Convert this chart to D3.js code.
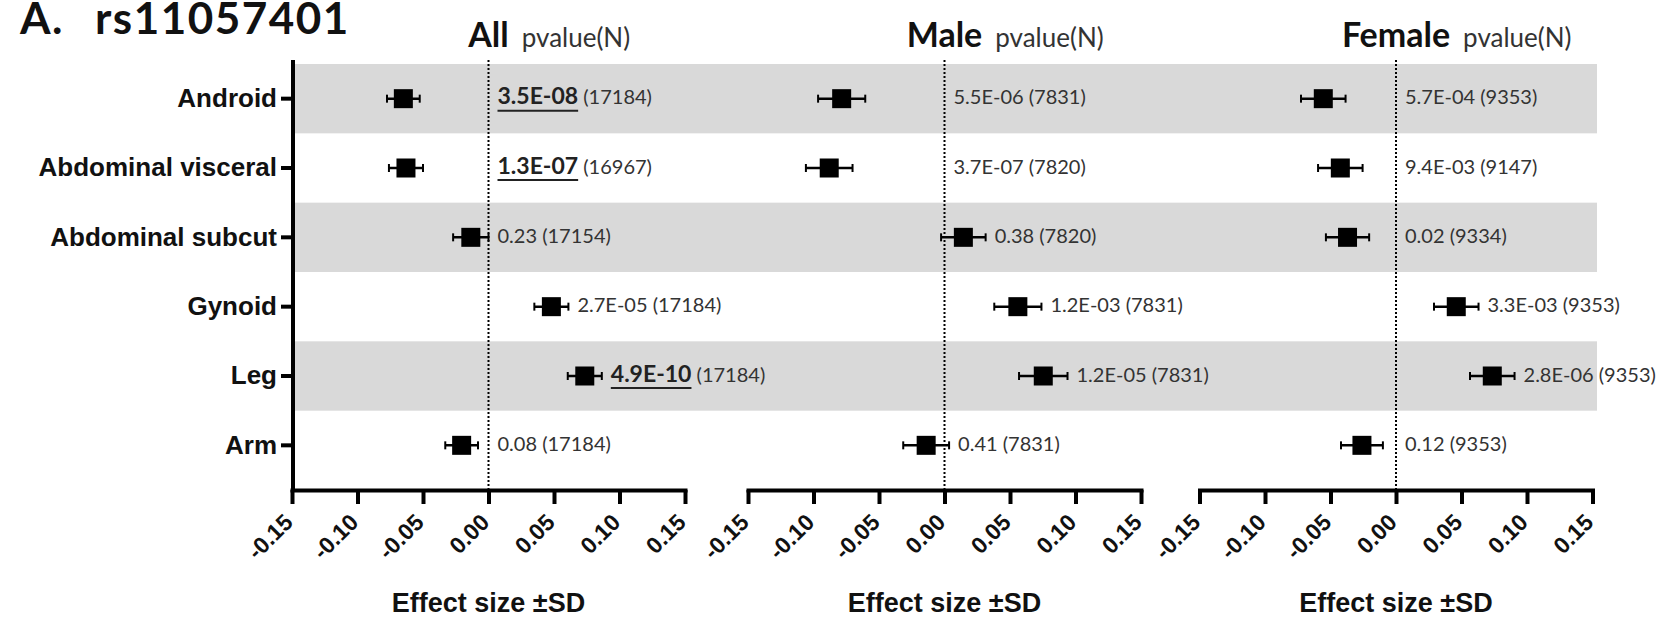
<!DOCTYPE html>
<html>
<head>
<meta charset="utf-8">
<script src="https://cdn.jsdelivr.net/npm/d3@7"></script>
<style>
  body { margin: 0; background: #fff; }
</style>
</head>
<body>
<svg id="chart"></svg>
<script>
// rows of the forest plot (top to bottom)
const rows = ['Android', 'Abdominal visceral', 'Abdominal subcut', 'Gynoid', 'Leg', 'Arm'];
const groups = ['All', 'Male', 'Female'];

// effect sizes and SD
const effectAll = [-0.065, -0.063, -0.0135, 0.048, 0.0735, -0.0205];
const sdAll = [0.0125, 0.013, 0.0135, 0.013, 0.013, 0.0125];
const pvalAll = ['3.5E-08', '1.3E-07', '0.23', '2.7E-05', '4.9E-10', '0.08'];
const nAll = [17184, 16967, 17154, 17184, 17184, 17184];
const sigAll = [true, true, false, false, true, false];

const effectMale = [-0.0785, -0.088, 0.0144, 0.056, 0.0754, -0.014];
const sdMale = [0.018, 0.0178, 0.017, 0.018, 0.0185, 0.0175];
const pvalMale = ['5.5E-06', '3.7E-07', '0.38', '1.2E-03', '1.2E-05', '0.41'];
const nMale = [7831, 7820, 7820, 7831, 7831, 7831];
const sigMale = [false, false, false, false, false, false];

const effectFemale = [-0.0555, -0.0425, -0.037, 0.046, 0.0735, -0.026];
const sdFemale = [0.017, 0.017, 0.0165, 0.017, 0.017, 0.016];
const pvalFemale = ['5.7E-04', '9.4E-03', '0.02', '3.3E-03', '2.8E-06', '0.12'];
const nFemale = [9353, 9147, 9334, 9353, 9353, 9353];
const sigFemale = [false, false, false, false, false, false];

const xTicks = [-0.15, -0.10, -0.05, 0, 0.05, 0.10, 0.15];
const xTickLabels = ['-0.15', '-0.10', '-0.05', '0.00', '0.05', '0.10', '0.15'];

function drawChart() {
  const W = 1664, H = 618;
  const svg = d3.select('#chart').attr('width', W).attr('height', H);

  const panelLeft = [292, 748, 1199.5];
  const panelWidth = 393;
  const axisY = 490;
  const topY = 60;
  const calibri = 'Lato, "Open Sans", sans-serif';
  const arial = '"Liberation Sans", Arial, sans-serif';

  const panels = [
    { name: groups[0], effect: effectAll, sd: sdAll, pval: pvalAll, n: nAll, sig: sigAll },
    { name: groups[1], effect: effectMale, sd: sdMale, pval: pvalMale, n: nMale, sig: sigMale },
    { name: groups[2], effect: effectFemale, sd: sdFemale, pval: pvalFemale, n: nFemale, sig: sigFemale }
  ];

  const y = d3.scaleBand().domain(rows).range([64, 480]).padding(0);

  // grey stripes behind every other row, across all three panels
  svg.append('g').selectAll('rect')
    .data(rows.filter((r, i) => i % 2 === 0)).enter()
    .append('rect')
    .attr('x', 293)
    .attr('width', 1597 - 293)
    .attr('y', d => y(d))
    .attr('height', y.bandwidth())
    .attr('fill', '#d9d9d9');

  // title
  const title = svg.append('text')
    .attr('y', 34)
    .attr('font-family', calibri)
    .attr('font-weight', 700)
    .attr('font-size', 44)
    .attr('letter-spacing', 1.5)
    .attr('fill', '#111');
  title.append('tspan').attr('x', 20).text('A.');
  title.append('tspan').attr('x', 95).text('rs11057401');

  // y axis (left panel only)
  const yAxis = d3.axisLeft(y).tickSizeInner(12).tickSizeOuter(0).tickPadding(4);
  const ya = svg.append('g').attr('transform', 'translate(293,0)').call(yAxis);
  ya.attr('font-family', null).attr('font-size', null);
  ya.select('.domain').remove();
  ya.selectAll('.tick line').attr('stroke', '#000').attr('stroke-width', 4);
  ya.selectAll('.tick text')
    .attr('font-family', arial)
    .attr('font-weight', 700)
    .attr('font-size', 26)
    .attr('fill', '#111');
  svg.append('line')
    .attr('x1', 293).attr('x2', 293)
    .attr('y1', topY).attr('y2', axisY + 2)
    .attr('stroke', '#000').attr('stroke-width', 4);

  panels.forEach((p, pi) => {
    const x = d3.scaleLinear()
      .domain([-0.15, 0.15])
      .range([panelLeft[pi], panelLeft[pi] + panelWidth]);
    const g = svg.append('g');

    // dotted zero line
    g.append('line')
      .attr('x1', x(0)).attr('x2', x(0))
      .attr('y1', topY).attr('y2', axisY)
      .attr('stroke', '#000')
      .attr('stroke-width', 2)
      .attr('stroke-dasharray', '2,2');

    // x axis
    const xAxis = d3.axisBottom(x)
      .tickValues(xTicks)
      .tickFormat((d, i) => xTickLabels[i])
      .tickSizeInner(14)
      .tickSizeOuter(0);
    const xa = g.append('g').attr('transform', `translate(0,${axisY})`).call(xAxis);
    xa.attr('font-family', null).attr('font-size', null);
    xa.select('.domain').attr('stroke', '#000').attr('stroke-width', 4).attr('stroke-linecap', 'square');
    xa.selectAll('.tick line').attr('stroke', '#000').attr('stroke-width', 4);
    xa.selectAll('.tick text')
      .attr('x', 0).attr('y', 0).attr('dy', '0.35em')
      .attr('text-anchor', 'end')
      .attr('transform', 'translate(-4,28) rotate(-45)')
      .attr('font-family', arial)
      .attr('font-weight', 700)
      .attr('font-size', 23)
      .attr('fill', '#111');

    // axis title
    g.append('text')
      .attr('x', x(0))
      .attr('y', 612)
      .attr('text-anchor', 'middle')
      .attr('font-family', arial)
      .attr('font-weight', 700)
      .attr('font-size', 27)
      .attr('fill', '#111')
      .text('Effect size \u00b1SD');

    // panel header: bold group name centred on zero, then "pvalue(N)"
    const head = g.append('text')
      .attr('y', 47)
      .attr('font-family', calibri)
      .attr('font-weight', 700)
      .attr('font-size', 34)
      .attr('fill', '#111')
      .text(p.name);
    const hw = head.node().getComputedTextLength();
    head.attr('x', x(0) - hw / 2);
    g.append('text')
      .attr('x', x(0) + hw / 2 + 13)
      .attr('y', 47)
      .attr('font-family', calibri)
      .attr('font-size', 26)
      .attr('fill', '#333')
      .text('pvalue(N)');

    const data = rows.map((r, i) => ({
      row: r,
      effect: p.effect[i],
      lo: p.effect[i] - p.sd[i],
      hi: p.effect[i] + p.sd[i],
      pval: p.pval[i],
      n: p.n[i],
      sig: p.sig[i]
    }));
    const cy = d => y(d.row) + y.bandwidth() / 2;

    const pts = g.selectAll('g.pt').data(data).enter().append('g').classed('pt', true);
    pts.append('line')
      .attr('x1', d => x(d.lo)).attr('x2', d => x(d.hi))
      .attr('y1', cy).attr('y2', cy)
      .attr('stroke', '#000').attr('stroke-width', 2.5);
    pts.append('line')
      .attr('x1', d => x(d.lo)).attr('x2', d => x(d.lo))
      .attr('y1', d => cy(d) - 4).attr('y2', d => cy(d) + 4)
      .attr('stroke', '#000').attr('stroke-width', 2);
    pts.append('line')
      .attr('x1', d => x(d.hi)).attr('x2', d => x(d.hi))
      .attr('y1', d => cy(d) - 4).attr('y2', d => cy(d) + 4)
      .attr('stroke', '#000').attr('stroke-width', 2);
    pts.append('rect')
      .attr('x', d => x(d.effect) - 9.5)
      .attr('y', d => cy(d) - 9.5)
      .attr('width', 19).attr('height', 19)
      .attr('fill', '#000');

    // p-value (N) labels
    pts.each(function (d) {
      const lx = x(Math.max(d.hi, 0)) + 9;
      const t = d3.select(this).append('text')
        .attr('x', lx)
        .attr('y', cy(d))
        .attr('dy', '0.35em')
        .attr('font-family', calibri)
        .attr('fill', '#333');
      const pv = t.append('tspan')
        .attr('font-size', d.sig ? 23 : 20)
        .attr('font-weight', d.sig ? 700 : 400)
        .attr('fill', d.sig ? '#222' : '#333')
        .text(d.pval);
      t.append('tspan')
        .attr('font-size', 20)
        .text(' (' + d.n + ')');
      if (d.sig) {
        const pw = pv.node().getComputedTextLength();
        d3.select(this).append('line')
          .attr('x1', lx).attr('x2', lx + pw)
          .attr('y1', cy(d) + 12).attr('y2', cy(d) + 12)
          .attr('stroke', '#222').attr('stroke-width', 2);
      }
    });
  });
}

drawChart();
</script>
</body>
</html>
